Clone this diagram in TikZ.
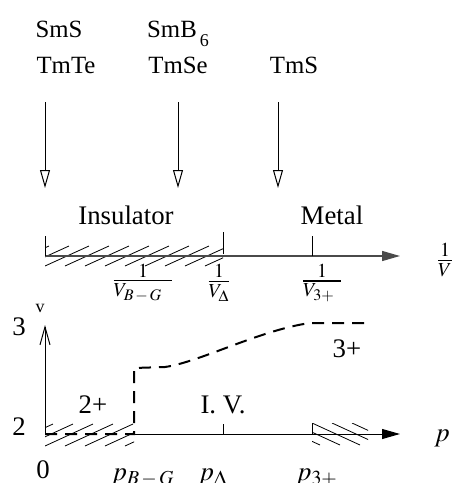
\documentclass[tikz,border=0pt]{standalone}
\usepackage{mathptmx}
\usepackage[no-math]{fontspec}
\setmainfont{Liberation Serif}
\usepackage{tikz}
\usetikzlibrary{arrows.meta,positioning}
\definecolor{ink}{HTML}{000000}
\definecolor{axisgray}{HTML}{4A4A4A}
\newcommand{\bigtext}{\fontsize{13.4}{16}\selectfont}
\newcommand{\toptext}{\fontsize{12.4}{14}\selectfont}
\newcommand{\smalltext}{\fontsize{9}{11}\selectfont}
\tikzset{
  compound/.style={anchor=base, inner sep=0pt, font=\toptext},
  phasetext/.style={anchor=base, inner sep=0pt, font=\bigtext},
  fractext/.style={inner sep=0pt, font=\bigtext},
  pressarrow/.style={draw=ink, line width=0.5pt,
    -{Triangle[open,length=9pt,width=5pt]}},
  invaxis/.style={draw=axisgray, line width=0.7pt,
    -{Triangle[length=9pt,width=5pt]}},
  paxis/.style={draw=ink, line width=0.5pt,
    -{Triangle[length=9pt,width=5pt]}},
  vaxis/.style={draw=ink, line width=0.5pt,
    -{Straight Barb[length=9pt,width=5pt]}},
  tickline/.style={draw=ink, line width=0.5pt},
  hatchline/.style={draw=ink, line width=0.4pt},
  valence/.style={draw=ink, line width=1pt, dash pattern=on 6pt off 4pt}
}
\begin{document}
\begin{tikzpicture}[x=0.5pt,y=-0.5pt]
  \useasboundingbox (0,0) rectangle (454,483);
  % compounds and their pressure arrows
  \node[compound] (sms) at (59,37) {SmS};
  \node[compound] (smb) at (178,37) {SmB\raisebox{-4.5pt}{\smalltext\,6}};
  \node[compound] (tmte) at (66,73) {TmTe};
  \node[compound] (tmse) at (178,73) {TmSe};
  \node[compound] (tms) at (294,73) {TmS};
  \foreach \n/\x in {tmte/45,tmse/178,tms/278} {
    \coordinate (\n-from) at (\x,102);
    \coordinate (\n-to) at (\x,188);
    \draw[pressarrow] (\n-from) -- (\n-to);
  }
  % upper axis: 1/V
  \coordinate (u-zero) at (45,256);
  \coordinate (u-delta) at (223,256);
  \coordinate (u-three) at (312,256);
  \coordinate (u-end) at (400,256);
  \begin{scope}
    \clip (45,245) rectangle (223,266);
    \foreach \x in {5,25,...,225}
      \draw[hatchline] (\x,266) -- ++(44,-20);
  \end{scope}
  \draw[invaxis] (u-zero) -- (u-end);
  \draw[tickline] (u-zero) -- ++(0,-20);
  \draw[tickline] ([yshift=1pt]u-delta) -- ++(0,-22);
  \draw[tickline] (u-three) -- ++(0,-20);
  \node[phasetext] (insulator) at (126,224) {Insulator};
  \node[phasetext] (metal) at (332,224) {Metal};
  \node[fractext] (inv-v) at (445,260) {$\frac{1}{V}$};
  \node[fractext] (inv-bg) at (143,283) {$\frac{1}{V_{B\,-\,G}\hspace{5pt}}$};
  \node[fractext] (inv-delta) at (219,283) {$\frac{1}{V_{\Delta}}$};
  \node[fractext] (inv-three) at (322,283) {$\frac{1}{V_{3+}\hspace{3pt}}$};
  % lower axes: valence against pressure
  \coordinate (origin) at (45,434);
  \coordinate (v-top) at (45,325);
  \coordinate (p-bg) at (134,434);
  \coordinate (p-delta) at (223,434);
  \coordinate (p-three) at (312,434);
  \coordinate (p-end) at (400,434);
  \begin{scope}
    \clip (45,423) rectangle (134,446);
    \foreach \x in {5,25,...,145}
      \draw[hatchline] (\x,446) -- ++(48,-22);
  \end{scope}
  \begin{scope}
    \clip (312,423) rectangle (368,446);
    \foreach \x in {272,292,...,372}
      \draw[hatchline] (\x,423) -- ++(48,22);
  \end{scope}
  \draw[tickline] (p-three) -- ++(0,-11);
  \draw[vaxis] (origin) -- (v-top);
  \draw[paxis] (p-bg) -- (p-end);
  \draw[tickline] (p-delta) -- ++(0,-10);
  \draw[valence] (origin) -- (p-bg) -- (134,368) -- (165,367)
    .. controls (200,362) and (260,330) .. (310,323) -- (367,323);
  \node[phasetext] (val-three) at (19,335) {3};
  \node[phasetext] (val-two) at (19,435) {2};
  \node[phasetext, font=\smalltext] (v-name) at (40,312) {v};
  \node[phasetext] (zero) at (43,478) {0};
  \node[phasetext] (two-plus) at (93,413) {2+};
  \node[phasetext] (three-plus) at (347,357) {3+};
  \node[phasetext] (iv) at (223,413) {I. V.};
  \node[phasetext] (p-name) at (442,441) {$p$};
  \node[phasetext] (p-bg-lab) at (143,480) {$p_{B\,-\,G}$};
  \node[phasetext] (p-delta-lab) at (213,480) {$p_{\Delta}$};
  \node[phasetext] (p-three-lab) at (317,480) {$p_{3+}$};
\end{tikzpicture}
\end{document}
